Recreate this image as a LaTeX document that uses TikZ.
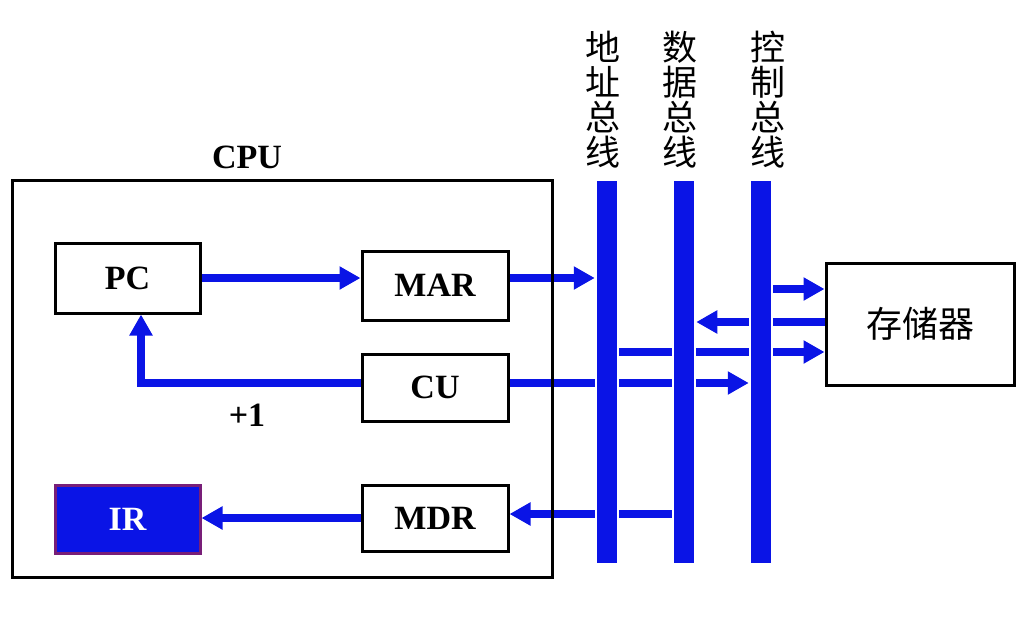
\documentclass[tikz,border=0pt]{standalone}
\usepackage{fontspec}
\setmainfont{Liberation Serif}
\newfontfamily\cjk{Noto Sans CJK SC}
\usetikzlibrary{arrows.meta}
\definecolor{busblue}{RGB}{10,20,230}
\definecolor{irborder}{RGB}{120,30,120}
\pgfdeclarelayer{background}
\pgfsetlayers{background,main}
\begin{document}
\begin{tikzpicture}[x=1pt,y=-1pt,
 reg/.style={draw=black,line width=3pt,minimum width=146pt,minimum height=68pt,inner sep=0pt,font=\fontsize{34}{40}\selectfont\bfseries},
 lbl/.style={inner sep=0pt,font=\fontsize{34}{40}\selectfont\bfseries},
 bus/.style={fill=busblue,draw=white,line width=2.5pt,minimum width=22pt,minimum height=384pt,inner sep=0pt},
 flow/.style={busblue,line width=8pt,line join=miter,-{Triangle[length=21pt,width=22pt]}},
 buslabel/.style={font=\cjk\fontsize{35}{35}\selectfont,align=center,inner sep=0pt}
]
\useasboundingbox (0,0) rectangle (1019,629);
% CPU frame
\node[draw=black,line width=3pt,minimum width=540pt,minimum height=397pt,inner sep=0pt] (cpu) at (282,378.5) {};
\node[lbl] (cpulabel) at (247,157) {CPU};
% registers
\node[reg,minimum width=145pt,minimum height=70pt] (pc) at (127.5,278) {PC};
\node[reg,minimum height=69pt] (mar) at (435,285.5) {MAR};
\node[reg,minimum height=67pt] (cu) at (435,387.5) {CU};
\node[reg,minimum height=66pt] (mdr) at (435,518) {MDR};
\node[reg,draw=irborder,fill=busblue,text=white,minimum width=145pt,minimum height=68pt] (ir) at (127.5,519) {IR};
\node[lbl] (plusone) at (247,415) {+1};
% buses
\node[bus] (abus) at (607,372) {};
\node[bus] (dbus) at (684,372) {};
\node[bus] (cbus) at (761,372) {};
\node[buslabel] (alabel) at (603,100) {地\\址\\总\\线};
\node[buslabel] (dlabel) at (680,100) {数\\据\\总\\线};
\node[buslabel] (clabel) at (768,100) {控\\制\\总\\线};
% memory
\node[draw=black,line width=3pt,minimum width=188pt,minimum height=122pt,inner sep=0pt,font=\cjk\fontsize{36}{40}\selectfont] (mem) at (920,324) {存储器};
% helper coordinates
\coordinate (turn) at (141,383);
\coordinate (y289) at (0,289);
\coordinate (y322) at (0,322);
\coordinate (y352) at (0,352);
\coordinate (y514) at (0,514);
% connectors
\begin{pgfonlayer}{background}
\draw[flow] (pc.east) -- (mar.west |- pc.east);
\draw[flow] (mar.east |- pc.east) -- (abus.west |- pc.east);
\draw[flow] (cu.west |- turn) -- (turn) -- (pc.south -| turn);
\draw[flow] (cu.east |- turn) -- (cbus.west |- turn);
\draw[flow] (abus.center |- y352) -- (mem.west |- y352);
\draw[flow] (mem.west |- y322) -- (dbus.east |- y322);
\draw[flow] (cbus.center |- y289) -- (mem.west |- y289);
\draw[flow] (dbus.center |- y514) -- (mdr.east |- y514);
\draw[flow] (mdr.west) -- (ir.east |- mdr.west);
\end{pgfonlayer}
\end{tikzpicture}
\end{document}
